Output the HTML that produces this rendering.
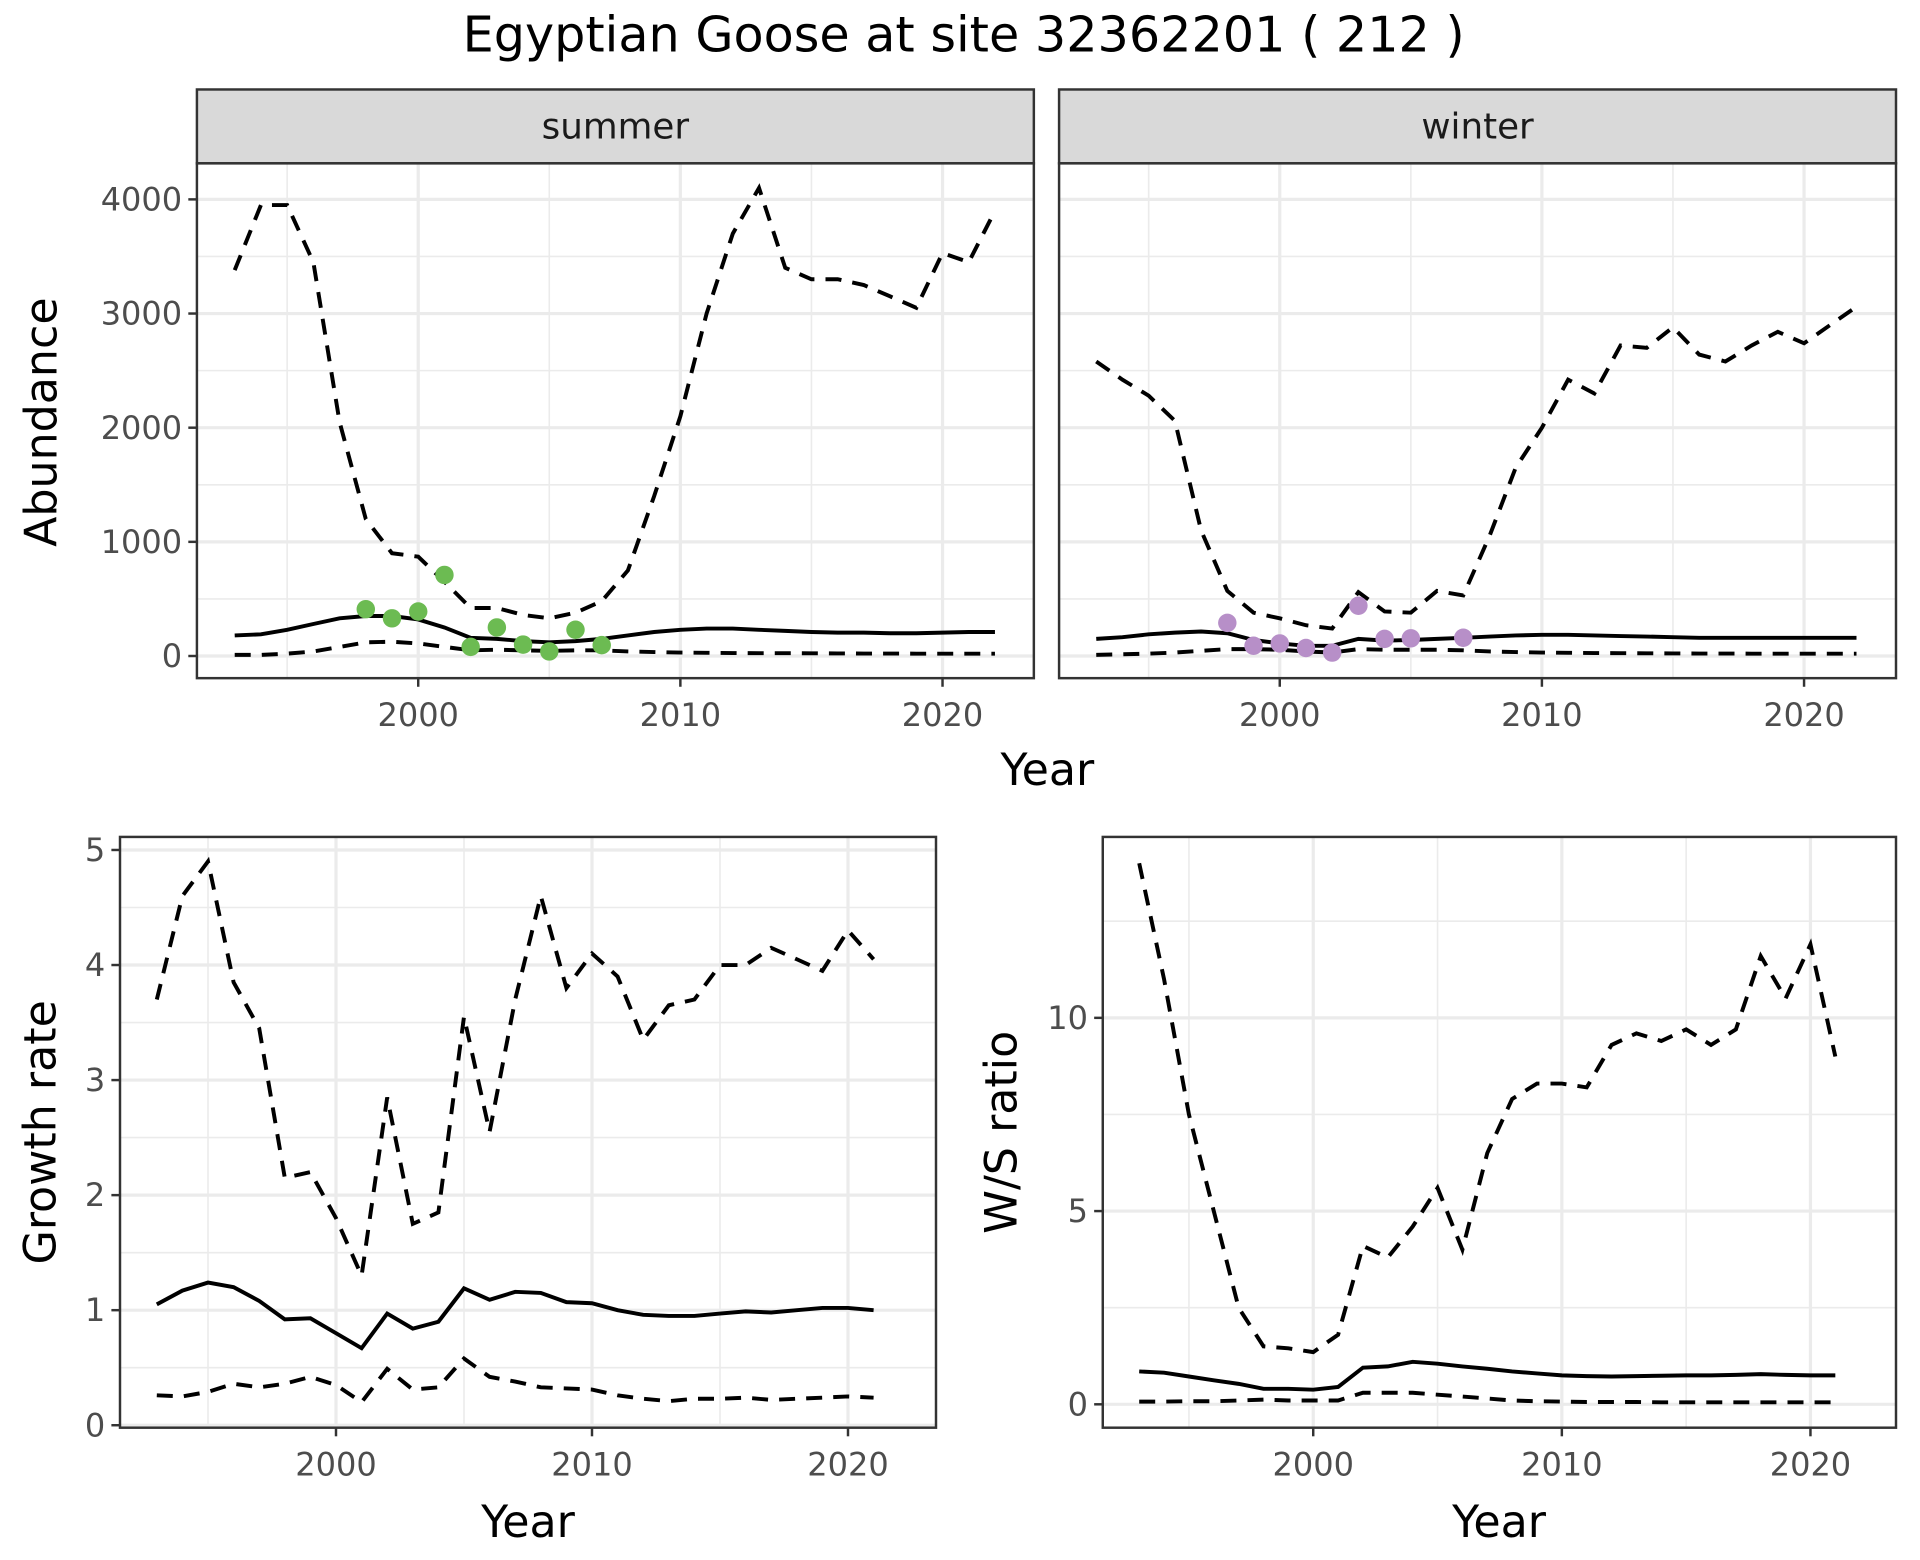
<!DOCTYPE html>
<html><head><meta charset="utf-8"><style>
html,body{margin:0;padding:0;background:#fff}
svg{display:block}
text{font-family:"DejaVu Sans","Liberation Sans",sans-serif}
</style></head><body>
<svg id="chart" width="1920" height="1560" viewBox="0 0 1560 1267.5" xmlns="http://www.w3.org/2000/svg">
<rect width="1560" height="1267.5" fill="#fff"/>
<text x="783" y="42" font-size="40" text-anchor="middle">Egyptian Goose at site 32362201 ( 212 )</text>
<g id="g"></g>
</svg>
<script>
const yearsA = [1993,1994,1995,1996,1997,1998,1999,2000,2001,2002,2003,2004,2005,2006,2007,2008,2009,2010,2011,2012,2013,2014,2015,2016,2017,2018,2019,2020,2021,2022];
const summerUpper = [3380,3950,3950,3450,2050,1200,900,870,650,420,420,360,330,380,480,750,1400,2100,3000,3700,4100,3400,3300,3300,3250,3150,3050,3530,3450,3900];
const summerMedian = [180,190,230,280,330,350,350,320,250,160,150,130,120,130,150,180,210,230,240,240,230,220,210,205,205,200,200,205,210,210];
const summerLower = [10,10,20,40,80,120,125,110,80,50,55,50,45,50,50,40,35,30,28,26,25,25,24,23,22,22,21,21,20,20];
const summerPtYears = [1998,1999,2000,2001,2002,2003,2004,2005,2006,2007];
const summerPts = [410,330,390,710,80,250,100,40,230,95];
const winterUpper = [2580,2420,2280,2060,1100,570,380,330,270,240,560,390,380,570,530,1050,1650,2000,2420,2300,2720,2700,2880,2640,2580,2720,2840,2740,2900,3060];
const winterMedian = [150,165,190,205,215,200,140,110,90,90,150,135,140,150,160,170,180,185,185,180,175,170,165,160,160,160,160,160,160,160];
const winterLower = [10,15,20,30,45,60,60,55,40,30,60,55,55,55,50,40,35,30,28,26,25,24,23,22,22,21,21,20,20,20];
const winterPtYears = [1998,1999,2000,2001,2002,2003,2004,2005,2007];
const winterPts = [290,90,110,70,30,440,150,155,160];
const yearsB = [1993,1994,1995,1996,1997,1998,1999,2000,2001,2002,2003,2004,2005,2006,2007,2008,2009,2010,2011,2012,2013,2014,2015,2016,2017,2018,2019,2020,2021];
const growthUpper = [3.7,4.6,4.9,3.85,3.45,2.15,2.2,1.8,1.3,2.85,1.75,1.85,3.55,2.55,3.7,4.6,3.8,4.1,3.9,3.35,3.65,3.7,4.0,4.0,4.15,4.05,3.95,4.3,4.05];
const growthMedian = [1.05,1.17,1.24,1.2,1.08,0.92,0.93,0.8,0.67,0.97,0.84,0.9,1.19,1.09,1.16,1.15,1.07,1.06,1.0,0.96,0.95,0.95,0.97,0.99,0.98,1.0,1.02,1.02,1.0];
const growthLower = [0.26,0.25,0.29,0.36,0.33,0.36,0.42,0.35,0.2,0.49,0.31,0.33,0.58,0.42,0.38,0.33,0.32,0.31,0.26,0.23,0.21,0.23,0.23,0.24,0.22,0.23,0.24,0.25,0.24];
const ratioUpper = [14.0,11.0,7.5,5.0,2.5,1.5,1.45,1.35,1.8,4.1,3.8,4.6,5.6,4.0,6.5,7.9,8.3,8.3,8.2,9.3,9.6,9.4,9.7,9.3,9.7,11.6,10.5,11.9,9.0];
const ratioMedian = [0.85,0.82,0.72,0.62,0.53,0.4,0.4,0.38,0.45,0.95,0.98,1.1,1.05,0.98,0.92,0.85,0.8,0.75,0.73,0.72,0.73,0.74,0.75,0.75,0.76,0.78,0.76,0.75,0.75];
const ratioLower = [0.07,0.07,0.08,0.08,0.1,0.12,0.1,0.1,0.1,0.3,0.3,0.3,0.25,0.2,0.15,0.1,0.08,0.07,0.06,0.06,0.06,0.05,0.05,0.05,0.05,0.05,0.05,0.05,0.05];
const xTicks = [2000,2010,2020];
const abTicks = [0,1000,2000,3000,4000];
const grTicks = [0,1,2,3,4,5];
const wsTicks = [0,5,10];

const NS='http://www.w3.org/2000/svg';
const G=document.getElementById('g');
function mk(tag,attrs,parent){const e=document.createElementNS(NS,tag);for(const k in attrs)e.setAttribute(k,attrs[k]);(parent||G).appendChild(e);return e;}
function lin(d0,d1,r0,r1){return v=>r0+(v-d0)*(r1-r0)/(d1-d0);}

function panel(name,box,xs,ys,yTicks,yMinor,showY,strip){
  const g=mk('g',{});
  
  
  const bg=mk('rect',{x:box.x0,y:box.y0,width:box.x1-box.x0,height:box.y1-box.y0,fill:'#fff'},g);
  
  
  [1995,2005,2015].forEach(v=>mk('line',{x1:xs(v),x2:xs(v),y1:box.y0,y2:box.y1,stroke:'#ebebeb','stroke-width':1.3},g));
  yMinor.forEach(v=>mk('line',{x1:box.x0,x2:box.x1,y1:ys(v),y2:ys(v),stroke:'#ebebeb','stroke-width':1.3},g));
  xTicks.forEach(v=>mk('line',{x1:xs(v),x2:xs(v),y1:box.y0,y2:box.y1,stroke:'#ebebeb','stroke-width':2.6},g));
  yTicks.forEach(v=>mk('line',{x1:box.x0,x2:box.x1,y1:ys(v),y2:ys(v),stroke:'#ebebeb','stroke-width':2.6},g));
  const ax=mk('g',{},g);
  
  
  xTicks.forEach(v=>{
    mk('line',{x1:xs(v),x2:xs(v),y1:box.y1,y2:box.y1+7,stroke:'#333','stroke-width':2},ax);
    const t=mk('text',{x:xs(v),y:box.y1+39,'font-size':26,fill:'#4d4d4d','text-anchor':'middle'},ax);t.textContent=v;
    
    
  });
  if(showY){
    const ay=mk('g',{},g);
    
    
    yTicks.forEach(v=>{
      mk('line',{x1:box.x0-7,x2:box.x0,y1:ys(v),y2:ys(v),stroke:'#333','stroke-width':2},ay);
      const t=mk('text',{x:box.x0-12,y:ys(v)+9,'font-size':26,fill:'#4d4d4d','text-anchor':'end'},ay);t.textContent=v;
      
      
    });
  }
  if(strip){
    const s=mk('rect',{x:box.x0,y:box.y0-60,width:box.x1-box.x0,height:60,fill:'#d9d9d9',stroke:'#333','stroke-width':2},g);
    
    
    const st=mk('text',{x:(box.x0+box.x1)/2,y:box.y0-20,'font-size':29,fill:'#1a1a1a','text-anchor':'middle'},g);st.textContent=strip;
    
    
  }
  return g;
}
function border(g,box){mk('rect',{x:box.x0,y:box.y0,width:box.x1-box.x0,height:box.y1-box.y0,fill:'none',stroke:'#333','stroke-width':2},g);}
function line(g,name,xsF,ysF,years,vals,dash){
  const d=years.map((y,i)=>(i?'L':'M')+xsF(y).toFixed(1)+','+ysF(vals[i]).toFixed(1)).join('');
  const p=mk('path',{d:d,fill:'none',stroke:'#000','stroke-width':3.2,'stroke-dasharray':dash?'13,9':'none'},g);
  
  
}
function points(g,name,xsF,ysF,years,vals,col){
  years.forEach((y,i)=>{
    const c=mk('circle',{cx:xsF(y),cy:ysF(vals[i]),r:7.5,fill:col},g);
    
    
  });
}
function label(txt,x,y,rot,name){
  const t=mk('text',{x:x,y:y,'font-size':36,fill:'#000','text-anchor':'middle',transform:rot?`rotate(-90 ${x} ${y})`:''});
  t.textContent=txt;
  
  
}

// Summer
const bS={x0:160,x1:840,y0:132.7,y1:551};
const xS=lin(2000,2010,339.8,552.8), yA=lin(0,4000,533,162);
let g=panel('summer-panel',bS,xS,yA,abTicks,[500,1500,2500,3500],true,'summer');
line(g,'summer-upper-line',xS,yA,yearsA,summerUpper,true);
line(g,'summer-lower-line',xS,yA,yearsA,summerLower,true);
line(g,'summer-median-line',xS,yA,yearsA,summerMedian,false);
points(g,'summer-count-point',xS,yA,summerPtYears,summerPts,'#6cbb52');
border(g,bS);
// Winter
const bW={x0:860.5,x1:1540.5,y0:132.7,y1:551};
const xW=lin(2000,2010,1039.8,1252.8);
g=panel('winter-panel',bW,xW,yA,abTicks,[500,1500,2500,3500],false,'winter');
line(g,'winter-upper-line',xW,yA,yearsA,winterUpper,true);
line(g,'winter-lower-line',xW,yA,yearsA,winterLower,true);
line(g,'winter-median-line',xW,yA,yearsA,winterMedian,false);
points(g,'winter-count-point',xW,yA,winterPtYears,winterPts,'#b78fc8');
border(g,bW);
label('Abundance',46,343,true,'abundance-y-title');
label('Year',851,638,false,'top-x-title');
// Growth
const bG={x0:97.5,x1:760.5,y0:680,y1:1160};
const xG=lin(2000,2020,273,689), yG=lin(0,5,1158,690.6);
g=panel('growth-panel',bG,xG,yG,grTicks,[0.5,1.5,2.5,3.5,4.5],true,null);
line(g,'growth-upper-line',xG,yG,yearsB,growthUpper,true);
line(g,'growth-lower-line',xG,yG,yearsB,growthLower,true);
line(g,'growth-median-line',xG,yG,yearsB,growthMedian,false);
border(g,bG);
label('Growth rate',45,920,true,'growth-y-title');
label('Year',429,1249,false,'growth-x-title');
// Ratio
const bR={x0:896,x1:1540.5,y0:680,y1:1160};
const xR=lin(2000,2020,1067,1471), yR=lin(0,10,1141,827);
g=panel('ratio-panel',bR,xR,yR,wsTicks,[2.5,7.5,12.5],true,null);
line(g,'ratio-upper-line',xR,yR,yearsB,ratioUpper,true);
line(g,'ratio-lower-line',xR,yR,yearsB,ratioLower,true);
line(g,'ratio-median-line',xR,yR,yearsB,ratioMedian,false);
border(g,bR);
label('W/S ratio',826,920,true,'ratio-y-title');
label('Year',1218,1249,false,'ratio-x-title');
</script>
</body></html>
